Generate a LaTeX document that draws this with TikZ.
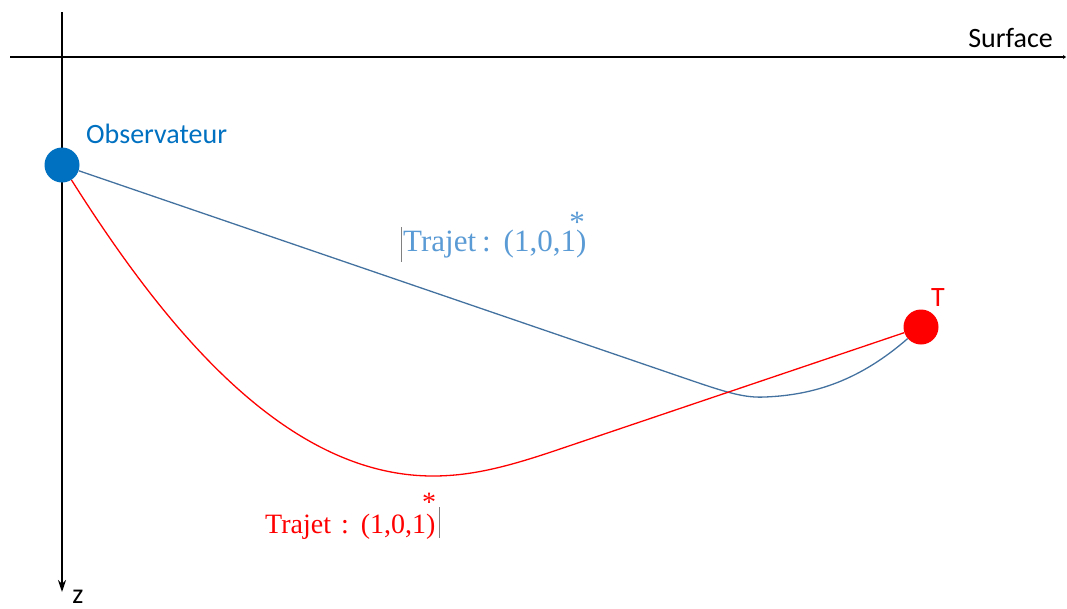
\documentclass[tikz,border=0pt]{standalone}
\usepackage{fontspec}
\newfontfamily\calib{Carlito}
\newfontfamily\camb{Liberation Serif}
\usetikzlibrary{arrows.meta}
\definecolor{obsblue}{RGB}{0,112,192}
\definecolor{pathblue}{RGB}{68,114,160}
\definecolor{lightblue}{RGB}{91,155,213}
\definecolor{tred}{RGB}{255,0,0}
\begin{document}
\begin{tikzpicture}[x=1pt,y=-1pt,
  axis/.style={line width=2.7pt, black},
  dot/.style={circle, inner sep=0pt, minimum size=35pt},
  lbl/.style={inner sep=0pt, font=\calib\fontsize{28}{32}\selectfont},
  trajline/.style={line width=1.3pt},
  cursor/.style={line width=0.6pt, gray},
  bigtxt/.style={inner sep=0pt, font=\camb\fontsize{31}{36}\selectfont},
  smalltxt/.style={inner sep=0pt, font=\camb\fontsize{28}{32}\selectfont}]
\useasboundingbox (0,0) rectangle (1067,608);
% axes
\coordinate (ztop) at (62,12);
\coordinate (zbot) at (62,592);
\coordinate (sleft) at (10,57);
\coordinate (sright) at (1066,57);
\draw[axis,-{Stealth[length=12pt,width=8pt]}] (ztop) -- (zbot);
\draw[axis,-{Stealth[length=3pt,width=4pt]}] (sleft) -- (sright);
\node[lbl, anchor=base east] (surf) at (1053,47) {Surface};
\node[lbl, anchor=base] (zlab) at (78,603) {z};
% points
\node[dot, fill=obsblue] (obs) at (62,165) {};
\node[dot, fill=tred] (T) at (921,327) {};
\node[lbl, anchor=base west, text=obsblue] (obslab) at (86,143) {Observateur};
\node[lbl, anchor=base west, text=tred] (Tlab) at (931,306) {T};
% paths
\coordinate (bmid) at (690,380);
\coordinate (bmin) at (765,397);
\draw[trajline, pathblue] (obs) -- (bmid) .. controls (728,393) and (745,398) .. (bmin) .. controls (815,395) and (860,380) .. (T);
\coordinate (rmin) at (433,476);
\coordinate (rjoin) at (560,449);
\draw[trajline, tred] (obs) .. controls (162,323) and (283,476) .. (rmin) .. controls (473,476) and (510,466) .. (rjoin) -- (T);
% labels
\node[bigtxt, anchor=base west, text=lightblue] (bluetxt) at (403,251) {Trajet\hspace{6pt}:\hspace{13pt}(1,0,1)};
\node[bigtxt, anchor=north, text=lightblue] (bluestar) at (577,212) {*};
\coordinate (bc1) at (401,227);
\coordinate (bc2) at (401,262);
\draw[cursor] (bc1) -- (bc2);
\node[smalltxt, anchor=base west, text=tred] (redtxt) at (265,533) {Trajet\hspace{10pt}:\hspace{12pt}(1,0,1)};
\node[smalltxt, anchor=north, text=tred] (redstar) at (429,493) {*};
\coordinate (rc1) at (439.5,507);
\coordinate (rc2) at (439.5,538);
\draw[cursor] (rc1) -- (rc2);
\end{tikzpicture}
\end{document}
